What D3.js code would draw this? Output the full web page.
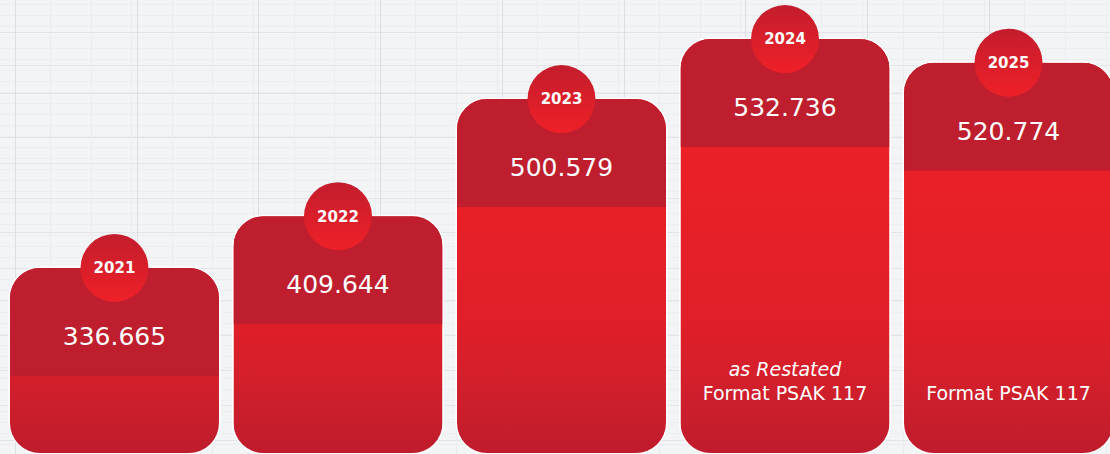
<!DOCTYPE html>
<html>
  <head>
    <script type="text/javascript" src="https://cdn.jsdelivr.net/npm/d3@7/dist/d3.min.js"></script>
    <style type="text/css">

html, body {
  margin: 0;
  background: #f3f4f6;
}

svg {
  display: block;
}

text {
  font-family: "DejaVu Sans", sans-serif;
  fill: #fff;
}

    </style>
  </head>
  <body>
    <div id="chart"></div>
    <script type="text/javascript">

var years = ["2021", "2022", "2023", "2024", "2025"];
var values = [336.665, 409.644, 500.579, 532.736, 520.774];
var valueLabels = ["336.665", "409.644", "500.579", "532.736", "520.774"];
var noteItalic = ["", "", "", "as Restated", ""];
var noteText = ["", "", "", "Format PSAK 117", "Format PSAK 117"];

var width = 1110,
    height = 454,
    bottom = 453,
    capH = 108,
    rad = 30;

var svg = d3.select("#chart").append("svg")
    .attr("width", width)
    .attr("height", height);

var defs = svg.append("defs");

// lower part of the bars: bright at the top, darker near the floor
var low = defs.append("linearGradient")
    .attr("id", "low")
    .attr("gradientUnits", "userSpaceOnUse")
    .attr("x1", 0).attr("x2", 0)
    .attr("y1", 140).attr("y2", bottom);
low.append("stop").attr("offset", 0).attr("stop-color", "#ec2027");
low.append("stop").attr("offset", 0.575).attr("stop-color", "#e01f28");
low.append("stop").attr("offset", 0.754).attr("stop-color", "#d41f2b");
low.append("stop").attr("offset", 1).attr("stop-color", "#bf1c2d");

var dot = defs.append("linearGradient")
    .attr("id", "dot")
    .attr("x1", 0).attr("x2", 0)
    .attr("y1", 0).attr("y2", 1);
dot.append("stop").attr("offset", 0).attr("stop-color", "#c31d2d");
dot.append("stop").attr("offset", 1).attr("stop-color", "#ef2027");

// faint squared paper behind the chart
var grid = svg.append("g");
grid.selectAll("line.fine")
    .data(d3.range(4, height, 11))
  .enter().append("line")
    .attr("x1", 0).attr("x2", width)
    .attr("y1", function(d) { return d + 0.5; })
    .attr("y2", function(d) { return d + 0.5; })
    .style("stroke", "#eceef1");
grid.selectAll("line.h")
    .data([32, 65, 93, 137, 163, 198, 232, 268, 300, 335, 370, 405, 440])
  .enter().append("line")
    .attr("x1", 0).attr("x2", width)
    .attr("y1", function(d) { return d + 0.5; })
    .attr("y2", function(d) { return d + 0.5; })
    .style("stroke", "#e2e4e8");
grid.selectAll("line.v")
    .data(d3.range(15, width, 121.7))
  .enter().append("line")
    .attr("y1", 0).attr("y2", height)
    .attr("x1", function(d) { return Math.round(d) + 0.5; })
    .attr("x2", function(d) { return Math.round(d) + 0.5; })
    .style("stroke", "#dcdee2");
grid.selectAll("line.vf")
    .data(d3.range(50, width, 40.6))
  .enter().append("line")
    .attr("y1", 0).attr("y2", height)
    .attr("x1", function(d) { return Math.round(d) + 0.5; })
    .attr("x2", function(d) { return Math.round(d) + 0.5; })
    .style("stroke", "#eaecef");

var x = d3.scaleBand()
    .domain(years)
    .range([10, 1113])
    .paddingInner(0.065)
    .paddingOuter(0);

var y = d3.scalePow()
    .exponent(4)
    .domain([300, 550])
    .range([284, 2]);

function roundedPath(x0, y0, w, h, r) {
  var p = d3.path();
  p.moveTo(x0 + r, y0);
  p.lineTo(x0 + w - r, y0);
  p.arcTo(x0 + w, y0, x0 + w, y0 + r, r);
  p.lineTo(x0 + w, y0 + h - r);
  p.arcTo(x0 + w, y0 + h, x0 + w - r, y0 + h, r);
  p.lineTo(x0 + r, y0 + h);
  p.arcTo(x0, y0 + h, x0, y0 + h - r, r);
  p.lineTo(x0, y0 + r);
  p.arcTo(x0, y0, x0 + r, y0, r);
  p.closePath();
  return p.toString();
}

var data = years.map(function(d, i) {
  return {year: d, value: values[i], label: valueLabels[i], ital: noteItalic[i], note: noteText[i]};
});

var bar = svg.selectAll("g.bar")
    .data(data)
  .enter().append("g")
    .attr("class", "bar");

bar.each(function(d, i) {
  var g = d3.select(this),
      x0 = x(d.year),
      w = x.bandwidth(),
      top = y(d.value),
      h = bottom - top;

  defs.append("clipPath")
      .attr("id", "clip" + i)
    .append("path")
      .attr("d", roundedPath(x0, top, w, h, rad));

  g.append("path")
      .attr("d", roundedPath(x0, top, w, h, rad))
      .style("fill", "none")
      .style("stroke", "#fff")
      .style("stroke-width", 3)
      .style("stroke-opacity", 0.9);

  var inner = g.append("g").attr("clip-path", "url(#clip" + i + ")");
  inner.append("rect")
      .attr("x", x0).attr("y", top)
      .attr("width", w).attr("height", h)
      .style("fill", "url(#low)");
  inner.append("rect")
      .attr("x", x0).attr("y", top)
      .attr("width", w).attr("height", capH)
      .style("fill", "#be1e2d");

  g.append("circle")
      .attr("cx", x0 + w / 2)
      .attr("cy", top)
      .attr("r", 34)
      .style("fill", "url(#dot)");

  g.append("text")
      .attr("x", x0 + w / 2)
      .attr("y", top)
      .attr("dy", "0.36em")
      .attr("text-anchor", "middle")
      .style("font-weight", "bold")
      .style("font-size", "15px")
      .text(d.year);

  g.append("text")
      .attr("x", x0 + w / 2)
      .attr("y", top + 68)
      .attr("dy", "0.36em")
      .attr("text-anchor", "middle")
      .style("font-size", "25px")
      .text(d.label);

  if (d.ital) {
    g.append("text")
        .attr("x", x0 + w / 2)
        .attr("y", bottom - 84)
        .attr("dy", "0.36em")
        .attr("text-anchor", "middle")
        .style("font-size", "19px")
        .style("font-style", "italic")
        .text(d.ital);
  }
  if (d.note) {
    g.append("text")
        .attr("x", x0 + w / 2)
        .attr("y", bottom - 60)
        .attr("dy", "0.36em")
        .attr("text-anchor", "middle")
        .style("font-size", "19px")
        .text(d.note);
  }
});

    </script>
  </body>
</html>
